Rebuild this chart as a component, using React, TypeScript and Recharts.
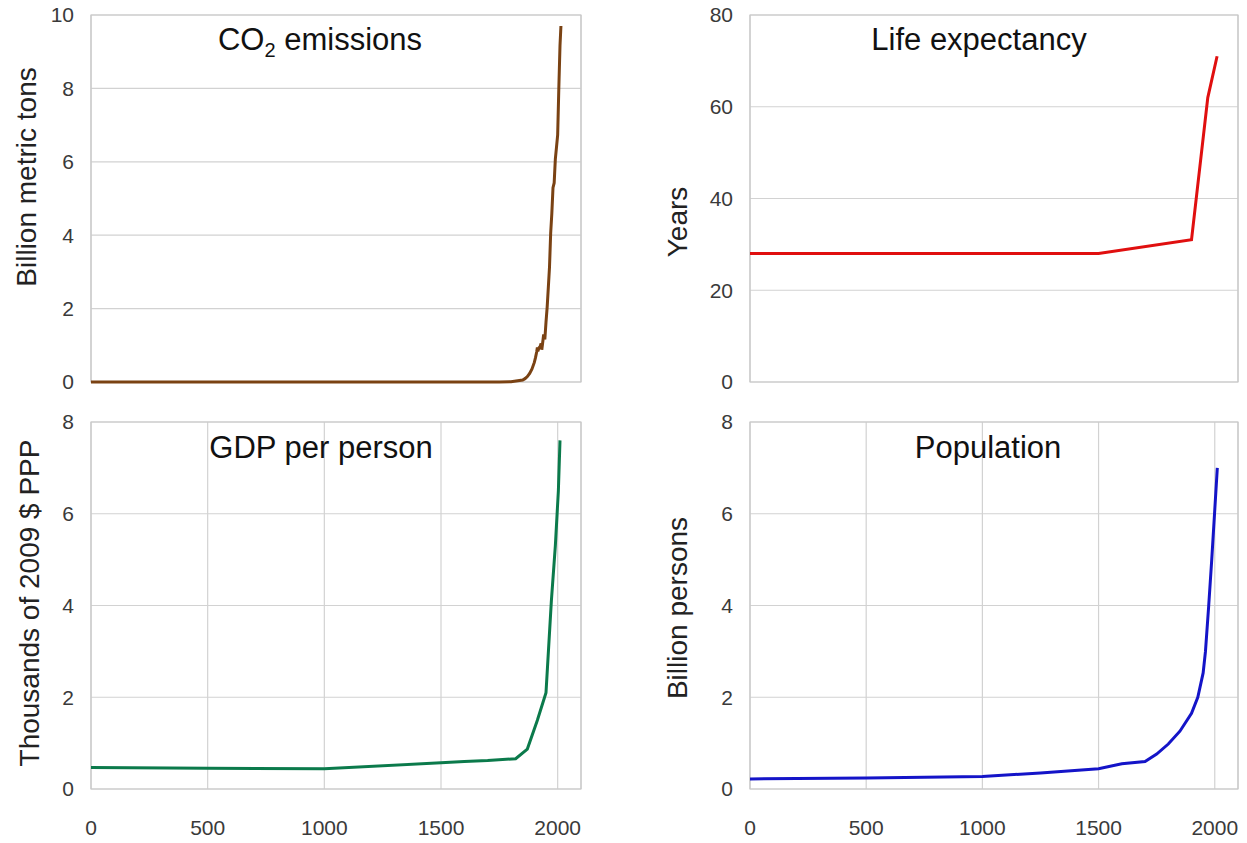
import React from "react"
import { LineChart, Line, XAxis, YAxis, CartesianGrid, ReferenceArea } from "recharts"

// years on the x axis
const co2Years = [0, 1000, 1750, 1800, 1850, 1860, 1870, 1880, 1890, 1900, 1905, 1910, 1913, 1915, 1920, 1925, 1929, 1932, 1937, 1940, 1945, 1950, 1955, 1960, 1965, 1970, 1975, 1980, 1985, 1990, 1995, 2000, 2005, 2010, 2014]
const co2Values = [0, 0, 0.003, 0.008, 0.054, 0.091, 0.147, 0.236, 0.356, 0.534, 0.663, 0.819, 0.943, 0.836, 0.932, 0.971, 1.053, 0.88, 1.137, 1.299, 1.16, 1.63, 2.043, 2.577, 3.13, 4.053, 4.596, 5.297, 5.424, 6.074, 6.398, 6.735, 8.02, 9.167, 9.7]

const lifeYears = [0, 500, 1000, 1500, 1900, 1970, 2010]
const lifeValues = [28, 28, 28, 28, 31, 62, 71]

const gdpYears = [0, 500, 1000, 1500, 1600, 1700, 1820, 1870, 1913, 1950, 1973, 1990, 2003, 2010]
const gdpValues = [0.47, 0.45, 0.44, 0.57, 0.6, 0.62, 0.66, 0.87, 1.5, 2.1, 4.1, 5.3, 6.5, 7.6]

const popYears = [0, 500, 1000, 1250, 1500, 1600, 1700, 1750, 1800, 1850, 1900, 1927, 1950, 1960, 1974, 1987, 1999, 2011]
const popValues = [0.22, 0.24, 0.27, 0.35, 0.44, 0.55, 0.6, 0.76, 0.98, 1.26, 1.65, 2.0, 2.53, 3.0, 4.0, 5.0, 6.0, 7.0]

const xTicks = [0, 500, 1000, 1500, 2000]
const co2Ticks = [0, 2, 4, 6, 8, 10]
const lifeTicks = [0, 20, 40, 60, 80]
const gdpTicks = [0, 2, 4, 6, 8]
const popTicks = [0, 2, 4, 6, 8]

const FONT = "'Liberation Sans', Arial, sans-serif"
const X_MAX = 2100

const toRows = (years: number[], values: number[]) =>
  years.map((year, i) => ({ year, value: values[i] }))

interface PanelProps {
  years: number[]
  values: number[]
  color: string
  yTicks: number[]
  left: number
  top: number
  width: number
  height: number
  marginRight: number
  marginTop: number
  marginBottom: number
  xAxisHeight: number
  showX: boolean
}

function Panel(p: PanelProps) {
  const data = toRows(p.years, p.values)
  const yMax = p.yTicks[p.yTicks.length - 1]
  const tickStyle = { fontFamily: FONT, fontSize: 21, fill: "#3a3a3a" }
  return (
    <div style={{ position: "absolute", left: p.left, top: p.top }}>
      <LineChart
        width={p.width}
        height={p.height}
        data={data}
        margin={{ top: p.marginTop, right: p.marginRight, bottom: p.marginBottom, left: 0 }}
      >
        <CartesianGrid stroke="#d2d2d2" strokeWidth={1.2} />
        <XAxis
          dataKey="year"
          type="number"
          domain={[0, X_MAX]}
          ticks={xTicks}
          allowDataOverflow
          axisLine={false}
          tickLine={false}
          tick={p.showX ? tickStyle : false}
          tickMargin={25}
          height={p.xAxisHeight}
        />
        <YAxis
          type="number"
          domain={[0, yMax]}
          ticks={p.yTicks}
          axisLine={false}
          tickLine={false}
          tick={tickStyle}
          tickMargin={11}
          width={91}
        />
        <ReferenceArea x1={0} x2={X_MAX} y1={0} y2={yMax} fill="none" stroke="#c8c8c8" strokeWidth={1.2} fillOpacity={0} />
        <Line
          type="linear"
          dataKey="value"
          stroke={p.color}
          strokeWidth={3}
          dot={false}
          isAnimationActive={false}
        />
      </LineChart>
    </div>
  )
}

function Title({ cx, top, children }: { cx: number; top: number; children: React.ReactNode }) {
  return (
    <div
      style={{
        position: "absolute",
        left: cx,
        top,
        transform: "translateX(-50%)",
        fontFamily: FONT,
        fontSize: 31,
        lineHeight: 1,
        whiteSpace: "nowrap",
        color: "#111",
      }}
    >
      {children}
    </div>
  )
}

function AxisTitle({ cx, cy, text }: { cx: number; cy: number; text: string }) {
  return (
    <div
      style={{
        position: "absolute",
        left: cx,
        top: cy,
        transform: "translate(-50%, -50%) rotate(-90deg)",
        fontFamily: FONT,
        fontSize: 28,
        lineHeight: 1,
        whiteSpace: "nowrap",
        color: "#222",
      }}
    >
      {text}
    </div>
  )
}

export default function App() {
  return (
    <div style={{ position: "absolute", left: 0, top: 0, width: 1247, height: 843, background: "#fff", overflow: "hidden" }}>
      <Panel years={co2Years} values={co2Values} color="#7a4213" yTicks={co2Ticks}
        left={0} top={0} width={600} height={400} marginTop={15} marginRight={19} marginBottom={18} xAxisHeight={0} showX={false} />
      <Panel years={lifeYears} values={lifeValues} color="#e00f0f" yTicks={lifeTicks}
        left={659} top={0} width={588} height={400} marginTop={15} marginRight={9} marginBottom={18} xAxisHeight={0} showX={false} />
      <Panel years={gdpYears} values={gdpValues} color="#0b7a4b" yTicks={gdpTicks}
        left={0} top={405} width={600} height={438} marginTop={17} marginRight={19} marginBottom={0} xAxisHeight={54} showX />
      <Panel years={popYears} values={popValues} color="#1414c8" yTicks={popTicks}
        left={659} top={405} width={588} height={438} marginTop={17} marginRight={9} marginBottom={0} xAxisHeight={54} showX />

      <Title cx={320} top={24}>
        CO<span style={{ fontSize: 20, position: "relative", top: 7 }}>2</span> emissions
      </Title>
      <Title cx={979} top={24}>Life expectancy</Title>
      <Title cx={321} top={432}>GDP per person</Title>
      <Title cx={988} top={432}>Population</Title>

      <AxisTitle cx={27} cy={177} text="Billion metric tons" />
      <AxisTitle cx={678} cy={222} text="Years" />
      <AxisTitle cx={30} cy={603} text="Thousands of 2009 $ PPP" />
      <AxisTitle cx={678} cy={608} text="Billion persons" />
    </div>
  )
}
